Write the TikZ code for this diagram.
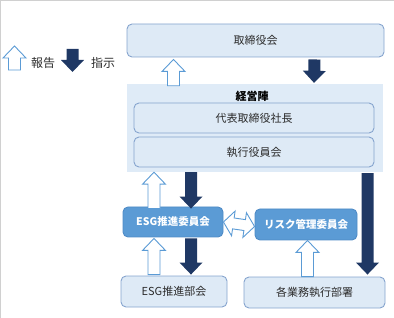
\documentclass[tikz,border=0pt]{standalone}
\usepackage{fontspec}
\setmainfont{Noto Sans CJK JP}
\usepackage{tikz}
\usetikzlibrary{
arrows.meta,
positioning,
calc
}
\definecolor{boxfill}{HTML}{DEEAF6}
\definecolor{boxline}{HTML}{86A4CE}
\definecolor{mgmtfill}{HTML}{DFEBF7}
\definecolor{cmtfill}{HTML}{5B9BD5}
\definecolor{cmtline}{HTML}{4F8BC6}
\definecolor{orderblue}{HTML}{1F3864}
\definecolor{reportblue}{HTML}{5B9BD5}
\definecolor{txtgray}{HTML}{2B2B2B}
\definecolor{framegray}{HTML}{D0D0D0}

% block arrow from #2 to #3, head at #3
\newcommand\blockarrow[3]{%
  \coordinate (ba-s) at (#2);
  \coordinate (ba-t) at (#3);
  \coordinate (ba-h) at ($(ba-t)!12pt!(ba-s)$);
  \path[#1] ($(ba-s)!6pt!90:(ba-t)$) -- ($(ba-h)!6pt!90:(ba-t)$)
    -- ($(ba-h)!11.5pt!90:(ba-t)$) -- (ba-t)
    -- ($(ba-h)!11.5pt!-90:(ba-t)$) -- ($(ba-h)!6pt!-90:(ba-t)$)
    -- ($(ba-s)!6pt!-90:(ba-t)$) -- cycle;
}
% double block arrow between #2 and #3
\newcommand\dblarrow[3]{%
  \coordinate (da-s) at (#2);
  \coordinate (da-t) at (#3);
  \coordinate (da-a) at ($(da-s)!10pt!(da-t)$);
  \coordinate (da-b) at ($(da-t)!10pt!(da-s)$);
  \path[#1] (da-s) -- ($(da-a)!12.5pt!90:(da-t)$) -- ($(da-a)!5.5pt!90:(da-t)$)
    -- ($(da-b)!5.5pt!-90:(da-s)$) -- ($(da-b)!12.5pt!-90:(da-s)$)
    -- (da-t) -- ($(da-b)!12.5pt!90:(da-s)$) -- ($(da-b)!5.5pt!90:(da-s)$)
    -- ($(da-a)!5.5pt!-90:(da-t)$) -- ($(da-a)!12.5pt!-90:(da-t)$) -- cycle;
}

\begin{document}
\begin{tikzpicture}[
  x=1pt, y=-1pt,
  unit/.style={draw=boxline, fill=boxfill, rounded corners=5pt, line width=0.9pt,
    font=\fontsize{11}{13}\selectfont, text=txtgray, inner sep=0pt},
  cmt/.style={draw=cmtline, fill=cmtfill, rounded corners=5pt, line width=0.9pt,
    font=\fontsize{10.5}{12}\selectfont\bfseries, text=white, inner sep=0pt},
  report/.style={draw=reportblue, fill=white, line width=0.9pt, line join=miter},
  order/.style={fill=orderblue},
  legend/.style={font=\fontsize{12}{14}\selectfont, text=txtgray}
]
\useasboundingbox (0,0) rectangle (394,318);

% frame
\draw[framegray, line width=0.8pt] (0.4,318) -- (0.4,0.4) -- (394,0.4);

% legend
\coordinate (rep-s) at (14.5,70);
\coordinate (rep-t) at (14.5,46);
\blockarrow{report}{rep-s}{rep-t}
\node[legend] (replbl) at (43,63) {報告};
\coordinate (ord-s) at (72.5,49);
\coordinate (ord-t) at (72.5,72);
\blockarrow{order}{ord-s}{ord-t}
\node[legend] (ordlbl) at (103,63) {指示};

% board
\node[unit, minimum width=257pt, minimum height=33pt] (board) at (255.5,40.5) {取締役会};

% management
\node[fill=mgmtfill, minimum width=256pt, minimum height=88pt, inner sep=0pt] (mgmt) at (255,128) {};
\node[font=\fontsize{11}{13}\selectfont\bfseries, text=black] (mgmtlbl) at (252,96) {経営陣};
\node[unit, minimum width=240pt, minimum height=30pt] (pres) at (254,118) {代表取締役社長};
\node[unit, minimum width=240pt, minimum height=30pt] (exec) at (254,152) {執行役員会};

% committees
\node[cmt, minimum width=100pt, minimum height=30pt] (esgc) at (173,222) {ESG推進委員会};
\node[cmt, minimum width=102pt, minimum height=31pt] (risk) at (306,224.5) {リスク管理委員会};

% departments
\node[unit, minimum width=106pt, minimum height=31pt] (esgd) at (174,291.5) {ESG推進部会};
\node[unit, minimum width=141pt, minimum height=31pt] (ops) at (314.5,292.5) {各業務執行部署};

% board <-> management
\blockarrow{report}{[xshift=-81.5pt,yshift=-2pt]mgmt.north}{[xshift=-82pt,yshift=-2pt]board.south}
\blockarrow{order}{[xshift=59pt,yshift=-2pt]board.south}{[xshift=59pt,yshift=1pt]mgmt.north}

% management <-> ESG committee
\blockarrow{report}{[xshift=-19pt,yshift=-2pt]esgc.north}{[xshift=-101pt]mgmt.south}
\blockarrow{order}{[xshift=-64pt]mgmt.south}{[xshift=18pt,yshift=-2pt]esgc.north}

% ESG committee <-> ESG division
\blockarrow{report}{[xshift=-20pt,yshift=1pt]esgd.north}{[xshift=-19pt,yshift=-1pt]esgc.south}
\blockarrow{order}{[xshift=18pt,yshift=-1pt]esgc.south}{[xshift=17pt,yshift=1pt]esgd.north}

% ESG committee <-> risk committee
\dblarrow{report}{esgc.east}{[yshift=-2pt]risk.west}

% departments -> risk committee, management -> departments
\blockarrow{report}{[xshift=-7pt]ops.north}{[xshift=1.5pt]risk.south}
\blockarrow{order}{[xshift=112.5pt,yshift=-1pt]mgmt.south}{[xshift=53pt,yshift=2pt]ops.north}

\end{tikzpicture}
\end{document}
